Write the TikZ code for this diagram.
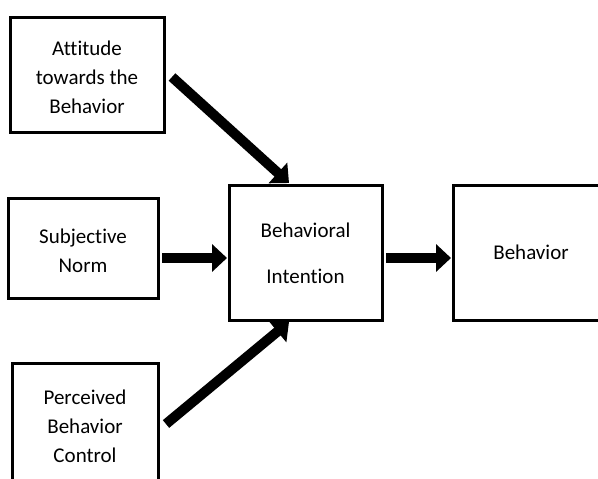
\documentclass[tikz,border=0pt]{standalone}
\usepackage{fontspec}
\setmainfont{Carlito}[Ligatures={NoCommon}]
\usetikzlibrary{arrows.meta}
\tikzset{
  box/.style={draw=black, line width=3pt, fill=white, inner sep=0pt},
  boxline/.style={draw=black, line width=3pt},
  label/.style={font=\fontsize{21}{29}\selectfont, align=center, inner sep=0pt},
  bigarrow/.style={line width=10pt, -{Triangle[length=15pt,width=27pt]}}
}
\begin{document}
\begin{tikzpicture}[x=1pt,y=1pt]
\useasboundingbox (0,0) rectangle (598,-479);
\fill[white] (0,0) rectangle (598,-479);
\node[box, minimum width=154pt, minimum height=115pt] (att) at (87,-74.5) {};
\node[label] (atttext) at (87,-77) {Attitude\\towards the\\Behavior};
\node[box, minimum width=150pt, minimum height=100pt] (sub) at (83,-248) {};
\node[label] (subtext) at (83,-251) {Subjective\\Norm};
\coordinate (pbcTL) at (12,-363);
\coordinate (pbcTR) at (158,-363);
\draw[boxline] (12,-479) -- (pbcTL) -- (pbcTR) -- (158,-479);
\node[label] (pbctext) at (85,-426) {Perceived\\Behavior\\Control};
\node[box, minimum width=153pt, minimum height=135pt] (bi) at (305.5,-252.5) {};
\node[label] (bitext) at (305.5,-253) {Behavioral\\[17pt]Intention};
\coordinate (behTL) at (453,-185);
\coordinate (behBL) at (453,-320);
\draw[boxline, line cap=butt] (598,-185) -- (behTL) -- (behBL) -- (598,-320);
\node[label] (behtext) at (531,-252) {Behavior};
\coordinate (a1) at (172,-77);
\coordinate (a2) at (289,-183);
\coordinate (s1) at (162,-258);
\coordinate (s2) at (227,-258);
\coordinate (p1) at (166,-424);
\coordinate (p2) at (289,-322);
\coordinate (b1) at (386,-258);
\coordinate (b2) at (451,-258);
\draw[bigarrow] (a1) -- (a2);
\draw[bigarrow] (s1) -- (s2);
\draw[bigarrow] (p1) -- (p2);
\draw[bigarrow] (b1) -- (b2);
\end{tikzpicture}
\end{document}
